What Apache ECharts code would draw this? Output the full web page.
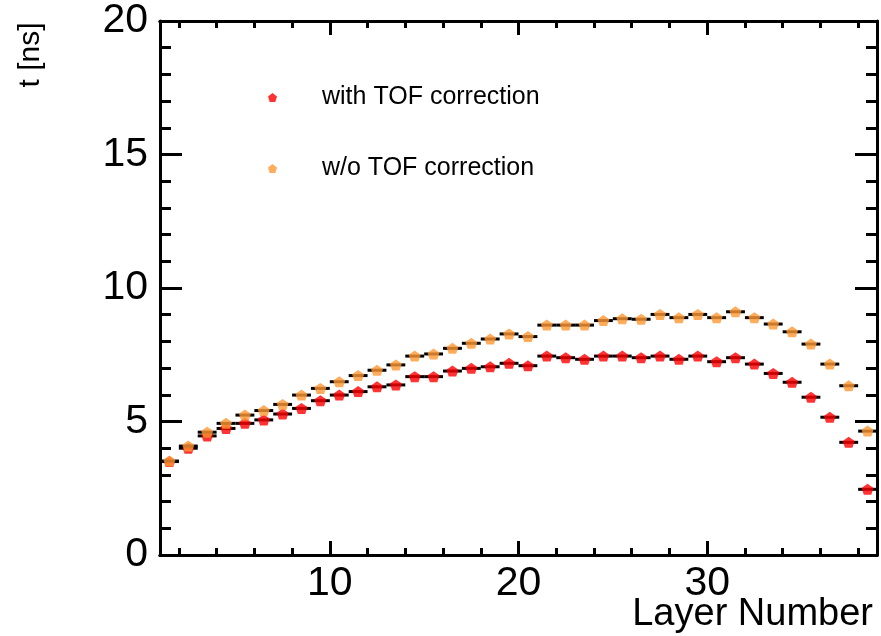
<!DOCTYPE html>
<html>
<head>
<meta charset="utf-8">
<title>Hit time per layer</title>
<script src="https://cdn.jsdelivr.net/npm/echarts@6/dist/echarts.min.js"></script>
<style>
  html, body { margin: 0; padding: 0; background: #fff; }
  #chart { width: 881px; height: 636px; }
</style>
</head>
<body>
<div id="chart"></div>
<script>
// Layer bin centres (each bin is one layer wide)
const layerCenters = [
  1.5, 2.5, 3.5, 4.5, 5.5, 6.5, 7.5, 8.5, 9.5, 10.5,
  11.5, 12.5, 13.5, 14.5, 15.5, 16.5, 17.5, 18.5, 19.5, 20.5,
  21.5, 22.5, 23.5, 24.5, 25.5, 26.5, 27.5, 28.5, 29.5, 30.5,
  31.5, 32.5, 33.5, 34.5, 35.5, 36.5, 37.5, 38.5
];
const binHalfWidth = 0.5;

// Mean time [ns] per layer
const withTOF = [
  3.50, 4.00, 4.46, 4.74, 4.93, 5.06, 5.28, 5.49, 5.78, 5.99,
  6.12, 6.30, 6.37, 6.68, 6.68, 6.89, 6.99, 7.05, 7.18, 7.09,
  7.45, 7.39, 7.33, 7.45, 7.45, 7.39, 7.45, 7.33, 7.45, 7.24,
  7.39, 7.15, 6.80, 6.47, 5.91, 5.16, 4.22, 2.46
];
const withoutTOF = [
  3.52, 4.08, 4.60, 4.93, 5.24, 5.41, 5.64, 5.99, 6.24, 6.49,
  6.72, 6.92, 7.12, 7.45, 7.53, 7.74, 7.93, 8.09, 8.28, 8.18,
  8.61, 8.61, 8.61, 8.78, 8.85, 8.83, 9.01, 8.89, 9.01, 8.89,
  9.11, 8.89, 8.65, 8.36, 7.90, 7.15, 6.34, 4.64
];

const xMajorTicks = [10, 20, 30];
const xMinorTicks = [2, 4, 6, 8, 12, 14, 16, 18, 22, 24, 26, 28, 32, 34, 36, 38];

const seriesNames = ['with TOF correction', 'w/o TOF correction'];
const seriesColors = ['#ff0000', '#ff9933'];

const FONT = "'Liberation Sans', Arial, Helvetica, sans-serif";
const MARKER = 'path://M5,0 L10,3.8 L8.1,10 L1.9,10 L0,3.8 Z';

function pairs(ys) {
  return layerCenters.map((x, i) => [x, ys[i]]);
}

// Horizontal bars showing the width of each layer bin
function binBars(ys, z) {
  return {
    type: 'custom',
    xAxisIndex: 0,
    yAxisIndex: 0,
    z: z,
    silent: true,
    data: pairs(ys),
    renderItem: function (params, api) {
      const x = api.value(0), y = api.value(1);
      const a = api.coord([x - binHalfWidth, y]);
      const b = api.coord([x + binHalfWidth, y]);
      return {
        type: 'line',
        shape: { x1: a[0], y1: a[1], x2: b[0], y2: b[1] },
        style: { stroke: '#000', lineWidth: 3 }
      };
    }
  };
}

function markers(name, ys, color, z) {
  return {
    type: 'scatter',
    name: name,
    xAxisIndex: 0,
    yAxisIndex: 0,
    z: z,
    symbol: MARKER,
    symbolSize: [12, 11],
    itemStyle: { color: color },
    data: pairs(ys)
  };
}

const frameLine = { show: true, onZero: false, lineStyle: { color: '#000', width: 3 } };
const tickStyle = { color: '#000', width: 3 };

function xAxisDef(position, ticks, len, withLabels) {
  return {
    type: 'value',
    position: position,
    min: 1,
    max: 39,
    axisLine: frameLine,
    splitLine: { show: false },
    axisTick: { show: true, inside: true, length: len, lineStyle: tickStyle, customValues: ticks },
    axisLabel: withLabels
      ? { show: true, customValues: ticks, color: '#000', fontSize: 41, fontFamily: FONT, margin: 8 }
      : { show: false }
  };
}

function yAxisDef(position, withLabels) {
  return {
    type: 'value',
    position: position,
    min: 0,
    max: 20,
    interval: 5,
    axisLine: frameLine,
    splitLine: { show: false },
    axisTick: { show: true, inside: true, length: 22, lineStyle: tickStyle },
    minorTick: { show: true, splitNumber: 5, length: 11, lineStyle: tickStyle },
    axisLabel: withLabels
      ? { show: true, color: '#000', fontSize: 41, fontFamily: FONT, margin: 12 }
      : { show: false }
  };
}

const chart = echarts.init(document.getElementById('chart'), null, { renderer: 'canvas' });

chart.setOption({
  backgroundColor: '#fff',
  animation: false,
  grid: { left: 160, right: 4, top: 21, bottom: 81, containLabel: false },
  xAxis: [
    xAxisDef('bottom', xMajorTicks, 14, true),
    xAxisDef('bottom', xMinorTicks, 7, false),
    xAxisDef('top', xMajorTicks, 14, false),
    xAxisDef('top', xMinorTicks, 7, false)
  ],
  yAxis: [
    yAxisDef('left', true),
    yAxisDef('right', false)
  ],
  legend: {
    orient: 'vertical',
    left: 263,
    top: 80,
    itemWidth: 9,
    itemHeight: 9,
    itemGap: 46,
    selectedMode: false,
    textStyle: { color: '#000', fontSize: 25, fontFamily: FONT, lineHeight: 24, padding: [0, 0, 0, 40] },
    data: [
      { name: seriesNames[0], icon: MARKER },
      { name: seriesNames[1], icon: MARKER }
    ]
  },
  series: [
    binBars(withTOF, 2),
    markers(seriesNames[0], withTOF, seriesColors[0], 3),
    binBars(withoutTOF, 4),
    markers(seriesNames[1], withoutTOF, seriesColors[1], 5)
  ],
  graphic: [
    {
      type: 'text',
      x: 873,
      y: 615,
      style: { text: 'Layer Number', font: '38px ' + FONT, fill: '#000', align: 'right', verticalAlign: 'middle' }
    },
    {
      type: 'text',
      x: 31,
      y: 55,
      rotation: Math.PI / 2,
      style: { text: 't [ns]', font: '30px ' + FONT, fill: '#000', align: 'center', verticalAlign: 'middle' }
    }
  ]
});
</script>
</body>
</html>
